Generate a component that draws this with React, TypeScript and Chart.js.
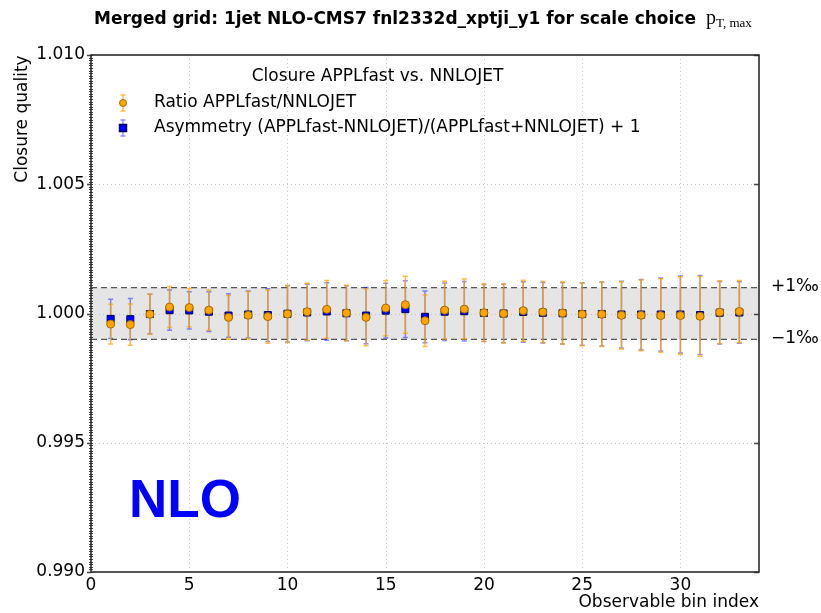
import React, { useEffect, useRef } from "react";
import { Chart, registerables } from "chart.js";

Chart.register(...registerables);

// Observable bins and closure results
const binIndex = [
  1, 2, 3, 4, 5, 6, 7, 8, 9, 10, 11, 12, 13, 14, 15, 16, 17, 18, 19, 20, 21,
  22, 23, 24, 25, 26, 27, 28, 29, 30, 31, 32, 33,
];

const ratioValues = [
  0.99959, 0.99957, 0.99997, 1.00025, 1.00023, 1.00013, 0.99985, 0.99993,
  0.99988, 0.99998, 1.00007, 1.00016, 1.00002, 0.99985, 1.00021, 1.00034,
  0.99972, 1.00013, 1.00017, 1.00003, 1.0, 1.00011, 1.00006, 1.00002, 0.99997,
  0.99997, 0.99993, 0.99993, 0.99992, 0.99992, 0.99989, 1.00005, 1.00008,
];

const ratioErrors = [
  0.00077, 0.0008, 0.00077, 0.00079, 0.00074, 0.00078, 0.00085, 0.00092,
  0.00103, 0.0011, 0.0011, 0.00112, 0.00107, 0.0011, 0.00107, 0.0011, 0.001,
  0.00112, 0.00116, 0.00111, 0.00114, 0.00118, 0.00118, 0.0012, 0.00122,
  0.00125, 0.0013, 0.00137, 0.00142, 0.0015, 0.00154, 0.00122, 0.0012,
];

const asymValues = [
  0.99979, 0.99978, 0.99998, 1.00013, 1.00012, 1.00007, 0.99992, 0.99996,
  0.99994, 0.99999, 1.00004, 1.00008, 1.00001, 0.99992, 1.00011, 1.00017,
  0.99987, 1.00007, 1.00009, 1.00002, 1.0, 1.00006, 1.00003, 1.00001, 0.99998,
  0.99998, 0.99996, 0.99996, 0.99996, 0.99996, 0.99994, 1.00003, 1.00004,
];

const asymErrors = [
  0.00076, 0.0008, 0.00076, 0.00078, 0.00072, 0.00077, 0.00084, 0.00091,
  0.00102, 0.00109, 0.00109, 0.00111, 0.00106, 0.00109, 0.00106, 0.0011, 0.001,
  0.00111, 0.00115, 0.0011, 0.00113, 0.00117, 0.00117, 0.00119, 0.00121,
  0.00124, 0.00129, 0.00136, 0.00141, 0.00149, 0.00153, 0.00121, 0.00119,
];

const bandLimits = [0.999, 1.001];
const bandLabels = ["+1‰", "−1‰"];
const titleText = "Merged grid: 1jet NLO-CMS7 fnl2332d_xptji_y1 for scale choice";
const legendTitle = "Closure APPLfast vs. NNLOJET";
const seriesLabels = [
  "Ratio APPLfast/NNLOJET",
  "Asymmetry (APPLfast-NNLOJET)/(APPLfast+NNLOJET) + 1",
];
const orderLabel = "NLO";
const xTitle = "Observable bin index";
const yTitle = "Closure quality";

const SANS = "'DejaVu Sans', sans-serif";
const ORANGE = "#ffa500";
const BLUE = "#0000ff";

function drawErrorBars(
  ctx: CanvasRenderingContext2D,
  chart: any,
  values: number[],
  errors: number[],
  color: string
) {
  const { x, y } = chart.scales;
  ctx.strokeStyle = color;
  ctx.lineWidth = 1.5;
  ctx.setLineDash([]);
  values.forEach((v, i) => {
    const px = x.getPixelForValue(binIndex[i]);
    const top = y.getPixelForValue(v + errors[i]);
    const bot = y.getPixelForValue(v - errors[i]);
    ctx.beginPath();
    ctx.moveTo(px, top);
    ctx.lineTo(px, bot);
    ctx.moveTo(px - 2.5, top);
    ctx.lineTo(px + 2.5, top);
    ctx.moveTo(px - 2.5, bot);
    ctx.lineTo(px + 2.5, bot);
    ctx.stroke();
  });
}

const decorations = {
  id: "decorations",
  beforeDatasetsDraw(chart: any) {
    const { ctx, chartArea: a } = chart;
    const { x, y } = chart.scales;
    ctx.save();

    // shaded ±1 permille band
    const yHi = y.getPixelForValue(bandLimits[1]);
    const yLo = y.getPixelForValue(bandLimits[0]);
    ctx.fillStyle = "#e5e5e5";
    ctx.fillRect(a.left, yHi, a.right - a.left, yLo - yHi);

    // dotted grid
    ctx.strokeStyle = "#c4c4c4";
    ctx.lineWidth = 1;
    ctx.setLineDash([1, 3]);
    x.ticks.forEach((t: any) => {
      if (t.value <= x.min || t.value >= x.max) return;
      const px = Math.round(x.getPixelForValue(t.value)) + 0.5;
      ctx.beginPath();
      ctx.moveTo(px, a.top);
      ctx.lineTo(px, a.bottom);
      ctx.stroke();
    });
    y.ticks.forEach((t: any) => {
      if (t.value <= y.min + 1e-9 || t.value >= y.max - 1e-9) return;
      const py = Math.round(y.getPixelForValue(t.value)) + 0.5;
      ctx.beginPath();
      ctx.moveTo(a.left, py);
      ctx.lineTo(a.right, py);
      ctx.stroke();
    });

    // band edges
    ctx.strokeStyle = "#555555";
    ctx.lineWidth = 1.3;
    ctx.setLineDash([6, 4]);
    [yHi, yLo].forEach((py) => {
      ctx.beginPath();
      ctx.moveTo(a.left, py);
      ctx.lineTo(a.right, py);
      ctx.stroke();
    });

    // error bars
    drawErrorBars(ctx, chart, asymValues, asymErrors, "rgba(0,0,255,0.45)");
    drawErrorBars(ctx, chart, ratioValues, ratioErrors, "rgba(255,165,0,0.75)");
    ctx.restore();
  },
  afterDraw(chart: any) {
    const { ctx, chartArea: a } = chart;
    const { y } = chart.scales;
    ctx.save();
    ctx.setLineDash([]);

    // minor ticks on the left spine
    ctx.strokeStyle = "#444";
    ctx.lineWidth = 1;
    for (let k = 0; k <= 200; k++) {
      const v = 0.99 + k * 0.0001;
      const py = Math.round(y.getPixelForValue(v)) + 0.5;
      ctx.beginPath();
      ctx.moveTo(a.left - 2, py);
      ctx.lineTo(a.left + 2, py);
      ctx.stroke();
    }
    // major ticks
    ctx.lineWidth = 1.3;
    y.ticks.forEach((t: any) => {
      const py = Math.round(y.getPixelForValue(t.value)) + 0.5;
      ctx.beginPath();
      ctx.moveTo(a.left - 4, py);
      ctx.lineTo(a.left, py);
      ctx.moveTo(a.right - 5, py);
      ctx.lineTo(a.right, py);
      ctx.stroke();
    });

    // frame
    ctx.strokeStyle = "#2b2b2b";
    ctx.lineWidth = 1.6;
    ctx.strokeRect(a.left, a.top, a.right - a.left, a.bottom - a.top);

    // title
    ctx.fillStyle = "#000";
    ctx.textBaseline = "alphabetic";
    ctx.textAlign = "left";
    ctx.font = `bold 17px ${SANS}`;
    ctx.fillText(titleText, 94, 24);
    const tw = ctx.measureText(titleText).width;
    ctx.font = "20px 'Liberation Serif', serif";
    ctx.fillText("p", 94 + tw + 10, 24);
    const pw = ctx.measureText("p").width;
    ctx.font = "13px 'Liberation Serif', serif";
    ctx.fillText("T, max", 94 + tw + 10 + pw, 27);

    // axis titles
    ctx.font = `17px ${SANS}`;
    ctx.textAlign = "right";
    ctx.textBaseline = "middle";
    ctx.fillText(xTitle, a.right, 603);
    ctx.save();
    ctx.translate(23, 119);
    ctx.rotate(-Math.PI / 2);
    ctx.textAlign = "center";
    ctx.fillText(yTitle, 0, 0);
    ctx.restore();

    // band labels on the right
    ctx.textAlign = "left";
    ctx.fillText(bandLabels[0], 771, y.getPixelForValue(bandLimits[1]) - 1);
    ctx.fillText(bandLabels[1], 771, y.getPixelForValue(bandLimits[0]) - 1);

    // legend
    ctx.textAlign = "center";
    ctx.fillText(legendTitle, 377.5, 77);
    ctx.textAlign = "left";
    ctx.fillText(seriesLabels[0], 154, 103);
    ctx.fillText(seriesLabels[1], 154, 128);
    const mx = 123;
    const legendBar = (cy: number, color: string) => {
      ctx.strokeStyle = color;
      ctx.lineWidth = 1.5;
      ctx.beginPath();
      ctx.moveTo(mx, cy - 8);
      ctx.lineTo(mx, cy + 8);
      ctx.moveTo(mx - 2.5, cy - 8);
      ctx.lineTo(mx + 2.5, cy - 8);
      ctx.moveTo(mx - 2.5, cy + 8);
      ctx.lineTo(mx + 2.5, cy + 8);
      ctx.stroke();
    };
    legendBar(103, "rgba(255,165,0,0.75)");
    ctx.fillStyle = ORANGE;
    ctx.strokeStyle = "#a86a00";
    ctx.lineWidth = 1;
    ctx.beginPath();
    ctx.arc(mx, 103, 3.5, 0, Math.PI * 2);
    ctx.fill();
    ctx.stroke();
    legendBar(128, "rgba(0,0,255,0.45)");
    ctx.fillStyle = BLUE;
    ctx.strokeStyle = "#000060";
    ctx.fillRect(mx - 3.5, 124.5, 7, 7);
    ctx.strokeRect(mx - 3.5, 124.5, 7, 7);

    // perturbative order tag
    ctx.fillStyle = BLUE;
    ctx.font = "bold 53px 'Liberation Sans', Arial, sans-serif";
    ctx.textBaseline = "alphabetic";
    ctx.fillText(orderLabel, 129, 517);

    ctx.restore();
  },
};

export default function App() {
  const canvasRef = useRef<HTMLCanvasElement | null>(null);

  useEffect(() => {
    const canvas = canvasRef.current;
    if (!canvas) return;
    const chart = new Chart(canvas, {
      type: "scatter",
      data: {
        datasets: [
          {
            label: seriesLabels[0],
            data: binIndex.map((b, i) => ({ x: b, y: ratioValues[i] })),
            pointStyle: "circle",
            pointRadius: 4,
            backgroundColor: ORANGE,
            borderColor: "#a86a00",
            borderWidth: 1,
          },
          {
            label: seriesLabels[1],
            data: binIndex.map((b, i) => ({ x: b, y: asymValues[i] })),
            pointStyle: "rect",
            pointRadius: 5,
            backgroundColor: BLUE,
            borderColor: "#000060",
            borderWidth: 1,
          },
        ],
      },
      options: {
        responsive: false,
        animation: false,
        devicePixelRatio: 1,
        layout: { padding: { top: 55, right: 62, left: 0, bottom: 0 } },
        plugins: {
          legend: { display: false },
          tooltip: { enabled: false },
          title: { display: false },
        },
        scales: {
          x: {
            type: "linear",
            min: 0,
            max: 34,
            grid: { display: false, drawTicks: false },
            border: { display: false },
            ticks: {
              stepSize: 5,
              padding: 3,
              color: "#000",
              font: { family: "DejaVu Sans", size: 17 },
              maxRotation: 0,
            },
            afterBuildTicks: (s: any) => {
              s.ticks = s.ticks.filter((t: any) => t.value % 5 === 0);
            },
            afterFit: (s: any) => {
              s.height = 41;
            },
          },
          y: {
            type: "linear",
            min: 0.99,
            max: 1.01,
            grid: { display: false, drawTicks: false },
            border: { display: false },
            ticks: {
              stepSize: 0.005,
              padding: 6,
              color: "#000",
              font: { family: "DejaVu Sans", size: 17 },
              callback: (v: any) => Number(v).toFixed(3),
            },
            afterFit: (s: any) => {
              s.width = 91;
            },
          },
        },
      },
      plugins: [decorations],
    });
    return () => chart.destroy();
  }, []);

  return (
    <div style={{ position: "absolute", left: 0, top: 0, width: 821, height: 613, background: "#fff" }}>
      <canvas ref={canvasRef} width={821} height={613} />
    </div>
  );
}
